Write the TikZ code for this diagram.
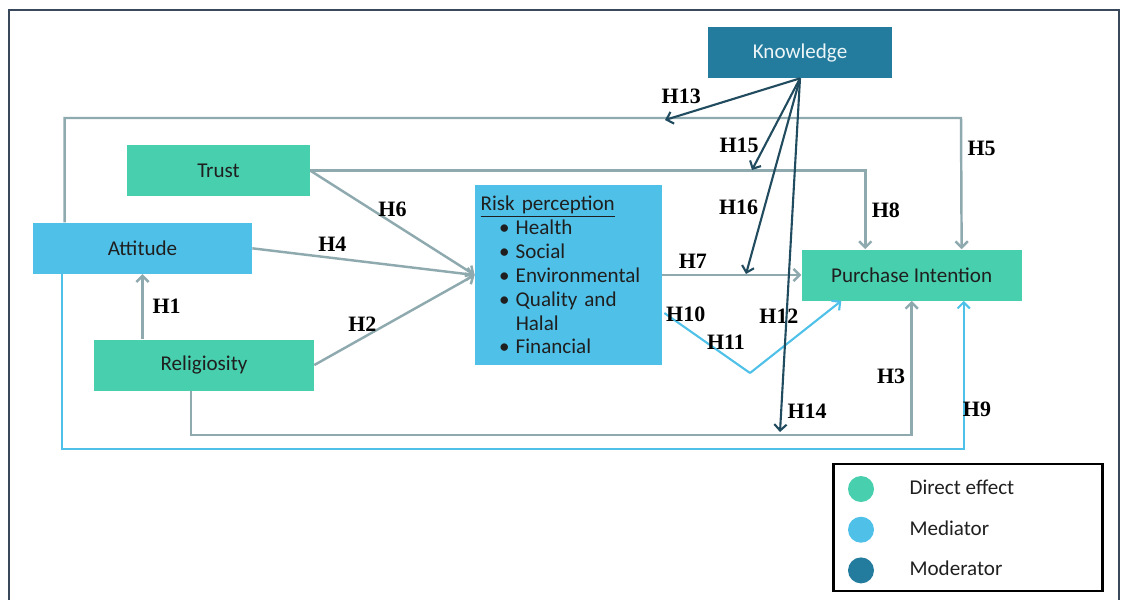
\documentclass[tikz,border=0pt]{standalone}
\usepackage{fontspec}
\setmainfont{Carlito}
\newfontfamily\hypfont{Liberation Serif}
\usepackage{tikz}
\usetikzlibrary{arrows.meta, positioning, calc}
\usepackage{xcolor}

\definecolor{directgreen}{RGB}{72,207,174}
\definecolor{mediatorblue}{RGB}{79,193,233}
\definecolor{moderatorteal}{RGB}{35,124,158}
\definecolor{linkgray}{RGB}{143,170,175}
\definecolor{modline}{RGB}{33,75,94}
\definecolor{framegray}{RGB}{58,72,92}

\newcommand{\riskitem}[1]{\hspace*{10.5pt}\textbullet\hspace{3.5pt}#1}

\begin{document}
\begin{tikzpicture}[
        x=0.02cm, y=-0.02cm,
        every node/.style={font=\fontsize{12}{13.6}\selectfont, text=black!88},
        construct/.style={
            rectangle,
            align=center,
            minimum width=4.4cm,
            minimum height=1.02cm,
            inner sep=2pt
        },
        direct/.style={construct, fill=directgreen},
        mediator/.style={construct, fill=mediatorblue},
        moderator/.style={
            construct,
            fill=moderatorteal,
            text=white!92!moderatorteal,
            minimum width=3.68cm
        },
        hyp/.style={
            font=\hypfont\bfseries\fontsize{12.5}{14}\selectfont,
            text=black,
            inner sep=3pt
        },
        link/.style={
            -{Straight Barb[length=3.5pt, width=7pt]},
            line width=1.4pt,
            draw=linkgray
        },
        medlink/.style={link, draw=mediatorblue, line width=1.2pt},
        modlink/.style={link, draw=modline, line width=1.2pt}
    ]

    \useasboundingbox (0,0) rectangle (1125,600);

    % Frame
    \draw[framegray, line width=1.2pt] (9,600) |- (1119,10) -- (1119,600);

    % Risk perception
    \node[mediator, align=left, text width=100pt, inner xsep=3pt,
          minimum width=3.74cm, minimum height=3.6cm] (risk) at (568.5,275)
        {\underline{Risk perception}\\
         \riskitem{Health}\\
         \riskitem{Social}\\
         \riskitem{Environmental}\\
         \riskitem{Quality and}\\
         \hspace*{10.5pt}\phantom{\textbullet}\hspace{3.5pt}Halal\\
         \riskitem{Financial}};

    % Purchase intention
    \node[direct, right=2.78cm of risk] (purchase) {Purchase Intention};

    % Religiosity
    \node[direct] (relig) at (204,365) {Religiosity};

    % Attitude
    \node[mediator, above=1.3cm of relig, xshift=-1.23cm,
          minimum width=4.38cm] (attitude) {Attitude};

    % Trust
    \node[direct, above=0.52cm of attitude, xshift=1.52cm,
          minimum width=3.66cm] (trust) {Trust};

    % Knowledge
    \node[moderator] (knowledge) at (800,52.5) {Knowledge};

    % Points on the paths that knowledge moderates
    \coordinate (toprail) at (961,118);
    \coordinate (dip) at (750,373);
    \coordinate (m13) at (665,120);
    \coordinate (m15) at (752,170);
    \coordinate (m16) at (746,274);
    \coordinate (m14) at (780,432);

    % Religiosity to attitude
    \draw[link] (attitude.south |- relig.north)
        -- node[hyp, right, xshift=2pt] {H1} (attitude.south);

    % Into risk perception
    \draw[link] (relig.east)
        -- node[hyp, above, pos=0.3] {H2} (risk.west);
    \draw[link] (attitude.east)
        -- node[hyp, above, pos=0.36] {H4} (risk.west);
    \draw[link] (trust.east)
        -- node[hyp, above, pos=0.5] {H6} (risk.west);

    % Direct effects on purchase intention
    \draw[link] (trust.east)
        -| node[hyp, right, pos=0.75] {H8} ($(purchase.north west)+(64,0)$);

    \draw[link] ($(attitude.north west)+(32,0)$) |- (toprail)
        -- node[hyp, right, pos=0.23] {H5} ($(purchase.north)+(50,0)$);

    \draw[link] (risk.east)
        -- node[hyp, above, pos=0.22] {H7} (purchase.west);

    \draw[link] ($(relig.south)+(-13,0)$) |- ($(purchase.south)+(0,134)$)
        -- node[hyp, left, pos=0.44] {H3} (purchase.south);

    \draw[medlink] ($(attitude.south west)+(29,0)$) |- ($(purchase.south)+(52,148)$)
        -- node[hyp, right, pos=0.27, xshift=-4pt] {H9} ($(purchase.south)+(52,0)$);

    % Mediation through risk perception
    \draw[medlink, -] ($(risk.east)+(2,38)$)
        -- node[hyp, above, pos=0.25] {H10}
           node[hyp, above, pos=0.72] {H11} (dip);
    \draw[medlink] (dip)
        -- node[hyp, above left, pos=0.6] {H12} ($(purchase.south west)+(40,0)$);

    % Knowledge as moderator
    \draw[modlink] (knowledge.south)
        -- node[hyp, above, pos=0.88, yshift=3pt] {H13} (m13);
    \draw[modlink] (knowledge.south)
        -- node[hyp, left, pos=0.73] {H15} (m15);
    \draw[modlink] (knowledge.south)
        -- node[hyp, left, pos=0.66] {H16} (m16);
    \draw[modlink] (knowledge.south)
        -- node[hyp, right, pos=0.94] {H14} (m14);

    % Legend
    \node[draw=black, line width=1.2pt, minimum width=5.38cm,
          minimum height=2.54cm] (legend) at (968,527.5) {};
    \node[circle, fill=directgreen, minimum size=0.52cm, inner sep=0pt]
        (ldirect) at (861,489) {};
    \node[circle, fill=mediatorblue, minimum size=0.52cm, inner sep=0pt,
          below=0.28cm of ldirect] (lmediator) {};
    \node[circle, fill=moderatorteal, minimum size=0.52cm, inner sep=0pt,
          below=0.28cm of lmediator] (lmoderator) {};
    \node[right=0.58cm of ldirect, yshift=1pt] {Direct effect};
    \node[right=0.58cm of lmediator, yshift=1pt] {Mediator};
    \node[right=0.58cm of lmoderator, yshift=1pt] {Moderator};

\end{tikzpicture}
\end{document}
